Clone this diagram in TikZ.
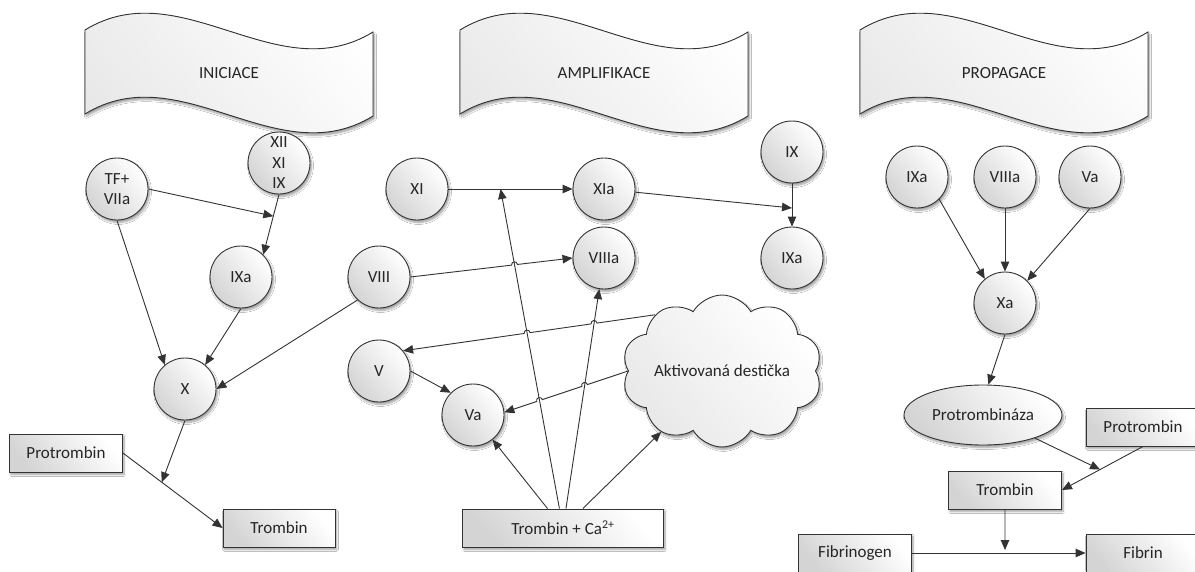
\documentclass[tikz,border=0pt]{standalone}
\usepackage{fontspec}
\setmainfont{Carlito}
\usetikzlibrary{arrows.meta,shapes.geometric,shapes.symbols,shadows.blur,calc,intersections}

\tikzset{
  txt/.style={font=\fontsize{17}{20.5}\selectfont, text=black!85},
  myshadow/.style={blur shadow={shadow xshift=1.5pt, shadow yshift=-2.5pt, shadow blur steps=6, shadow opacity=38}},
  mybase/.style={txt, draw=black!80, line width=0.9pt, myshadow},
  shadefill/.style={top color=white, bottom color=black!17, shading angle=-50},
  lightfill/.style={top color=white, bottom color=black!9, shading angle=-50},
  fac/.style={mybase, shadefill, circle, minimum size=62pt, inner sep=0pt, align=center},
  rbox/.style={mybase, shadefill, rectangle, minimum height=38pt, inner sep=2pt},
  conn/.style={draw=black!80, line width=0.9pt, -{Triangle[length=10pt,width=8.5pt]}},
  hopl/.style={bend left=90, looseness=1.7},
  hopr/.style={bend right=90, looseness=1.7},
}

\newcommand{\mybanner}[3]{%
  \filldraw[draw=black!80, line width=0.9pt, lightfill, myshadow]
    (#1,30) .. controls (#1+96,-29) and (#1+192,91) .. (#1+288,32)
    -- (#1+288,116) .. controls (#1+192,175) and (#1+96,55) .. (#1,114) -- cycle;
  \node[txt] (#2) at (#1+144,73) {#3};
}

\begin{document}
\begin{tikzpicture}[x=1pt,y=-1pt]
\clip (0,0) rectangle (1195,571);
\fill[white] (0,0) rectangle (1195,571);

% banners
\mybanner{85}{ban1}{INICIACE}
\mybanner{460}{ban2}{AMPLIFIKACE}
\mybanner{860}{ban3}{PROPAGACE}

% ---------- INICIACE ----------
\node[fac] (tf) at (117,189) {TF+\\VIIa};
\node[fac] (xii) at (279,163) {XII\\XI\\IX};
\node[fac] (ixa1) at (241,277) {IXa};
\node[fac] (x) at (185,389) {X};
\node[rbox, minimum width=113pt] (prot1) at (66,453) {Protrombin};
\node[rbox, minimum width=112pt] (tro1) at (279,528) {Trombin};

% ---------- AMPLIFIKACE ----------
\node[fac] (xi) at (417,189) {XI};
\node[fac] (xia) at (604,189) {XIa};
\node[fac] (viii) at (379,277) {VIII};
\node[fac] (viiia) at (604,258) {VIIIa};
\node[fac] (ix2) at (792,152) {IX};
\node[fac] (ixa2) at (792,258) {IXa};
\node[fac] (v) at (379,371) {V};
\node[fac] (va) at (473,415) {Va};
\node[rbox, minimum width=201pt] (tca) at (563,528) {Trombin + Ca\textsuperscript{2+}};
\node[mybase, lightfill, cloud, cloud puffs=10, cloud puff arc=120, aspect=1.35,
      minimum width=200pt, minimum height=152pt, inner sep=0pt] (cl) at (722,371) {};
\node[txt] (clt) at (722,371) {Aktivovaná destička};

% ---------- PROPAGACE ----------
\node[fac] (ixa3) at (917,177) {IXa};
\node[fac] (viiia3) at (1005,177) {VIIIa};
\node[fac] (va3) at (1090,177) {Va};
\node[fac] (xa) at (1005,303) {Xa};
\node[mybase, shadefill, ellipse, minimum width=158pt, minimum height=60pt, inner sep=0pt] (pz) at (983,415) {Protrombináza};
\node[rbox, minimum width=114pt] (prot2) at (1143,427) {Protrombin};
\node[rbox, minimum width=113pt] (tro2) at (1005,490) {Trombin};
\node[rbox, minimum width=113pt] (fg) at (855,553) {Fibrinogen};
\node[rbox, minimum width=114pt] (fb) at (1143,553) {Fibrin};

% ---------- connectors: INICIACE ----------
\coordinate (J1) at ($(xii.south)!0.36!(ixa1.45)$);
\draw[conn] (xii.south) -- (ixa1.45);
\draw[conn] (tf.east) -- (J1);
\draw[conn] (tf.south) -- (x.130);
\draw[conn] (ixa1.south) -- (x.50);
\draw[conn] (viii.227) -- (x.east);
\coordinate (J2) at ($(prot1.east)!0.39!(tro1.west)$);
\draw[conn] (prot1.east) -- (tro1.west);
\draw[conn] (x.south) -- (J2);

% ---------- connectors: AMPLIFIKACE ----------
\coordinate (J3) at ($(xi.east)!0.42!(xia.west)$);
\draw[conn] (xi) -- (xia);
\draw[conn, name path=pva] (tca) -- (J3);
\draw[conn, name path=pvb] (tca) -- (viiia);
\draw[conn] (tca) -- (va);
\draw[conn] (tca) -- (cl.225);
\coordinate (J4) at ($(ix2.south)!0.57!(ixa2.north)$);
\draw[conn] (ix2) -- (ixa2);
\draw[conn] (xia) -- (J4);
\draw[conn] (v.east) -- (va.135);

\path[name path=h1] (viii.east) -- (viiia.west);
\path[name intersections={of=h1 and pva, by=c1}];
\draw[conn] (viii.east) -- ($(c1)!3pt!(viii.east)$) to[hopl] ($(c1)!3pt!(viiia.west)$) -- (viiia.west);

\path[name path=h2] (cl.140) -- (v.40);
\path[name intersections={of=h2 and pvb, by=c2}];
\path[name intersections={of=h2 and pva, by=c3}];
\draw[conn] (cl.140) -- ($(c2)!3pt!(cl.140)$) to[hopr] ($(c2)!3pt!(v.40)$)
  -- ($(c3)!3pt!(cl.140)$) to[hopr] ($(c3)!3pt!(v.40)$) -- (v.40);

\path[name path=h3] (cl.west) -- (va.5);
\path[name intersections={of=h3 and pvb, by=c4}];
\path[name intersections={of=h3 and pva, by=c5}];
\draw[conn] (cl.west) -- ($(c4)!3pt!(cl.west)$) to[hopr] ($(c4)!3pt!(va.5)$)
  -- ($(c5)!3pt!(cl.west)$) to[hopr] ($(c5)!3pt!(va.5)$) -- (va.5);

% ---------- connectors: PROPAGACE ----------
\draw[conn] (ixa3.-45) -- (xa.130);
\draw[conn] (viiia3) -- (xa);
\draw[conn] (va3.south) -- (xa.45);
\draw[conn] (xa.south) -- (pz.80);
\coordinate (J5) at ($(prot2.south)!0.53!(tro2.east)$);
\draw[conn] (prot2.south) -- (tro2.east);
\draw[conn] (pz.-24) -- (J5);
\coordinate (J6) at ($(fg.east)!0.536!(fb.west)$);
\draw[conn] (fg) -- (fb);
\draw[conn, shorten >=3pt] (tro2) -- (J6);
\end{tikzpicture}
\end{document}
